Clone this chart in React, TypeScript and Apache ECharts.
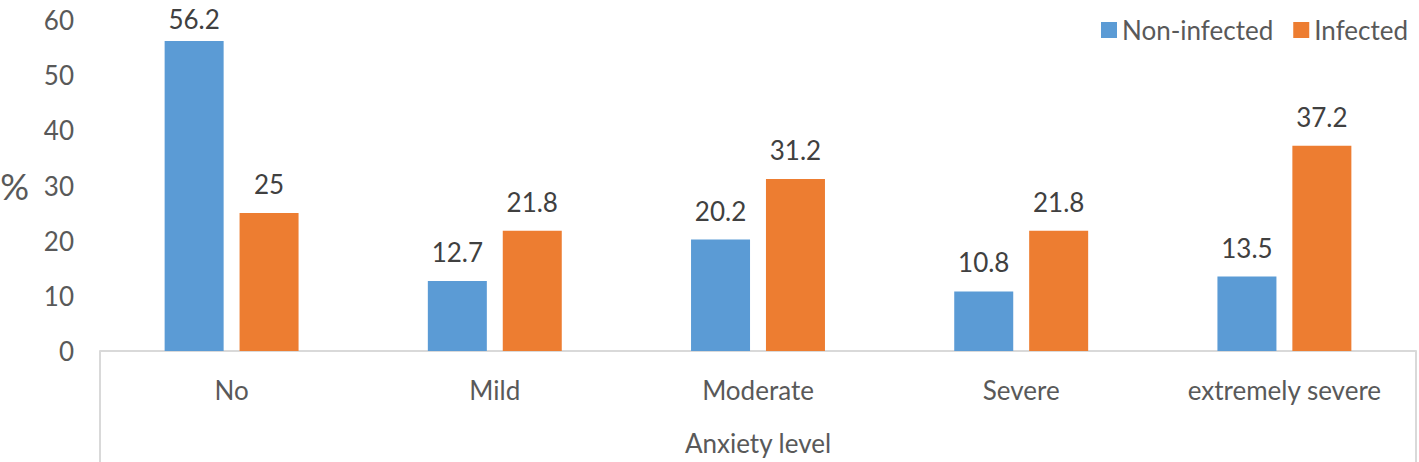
import React, { useEffect, useRef } from "react";
import * as echarts from "echarts";

const categories = ["No", "Mild", "Moderate", "Severe", "extremely severe"];
const nonInfected = [56.2, 12.7, 20.2, 10.8, 13.5];
const infected = [25, 21.8, 31.2, 21.8, 37.2];
const seriesNames = ["Non-infected", "Infected"];
const xTitle = "Anxiety level";
const yTitle = "%";

const W = 1419;
const H = 462;
const GRID_LEFT = 100;
const GRID_RIGHT = 3;
const GRID_TOP = 20;
const GRID_BOTTOM = 111;
const FONT = "Lato, 'Noto Sans', sans-serif";
const TEXT = "#595959";
const FS = 26;
const Y_MAX = 60;

// keep labels of bars near the top of the plot inside the picture
const toData = (vals: number[]) =>
  vals.map((v) => (v > Y_MAX - 6 ? { value: v, label: { distance: 9 } } : v));

export default function App() {
  const ref = useRef<HTMLDivElement>(null);
  useEffect(() => {
    document.body.style.margin = "0";
    const chart = echarts.init(ref.current!, null, { renderer: "svg" });
    const axisY = H - GRID_BOTTOM;
    const rightX = W - GRID_RIGHT;
    chart.setOption({
      animation: false,
      textStyle: { fontFamily: FONT },
      grid: {
        left: GRID_LEFT,
        right: GRID_RIGHT,
        top: GRID_TOP,
        bottom: GRID_BOTTOM,
        containLabel: false,
        outerBoundsMode: "none",
      },
      legend: {
        top: 12,
        right: 6,
        itemWidth: 16,
        itemHeight: 16,
        itemGap: 20,
        icon: "rect",
        textStyle: { fontSize: FS, color: TEXT, fontFamily: FONT },
        data: seriesNames,
      },
      xAxis: {
        type: "category",
        data: categories,
        axisLine: { lineStyle: { color: "#D9D9D9", width: 2 } },
        axisTick: { show: false },
        axisLabel: { fontSize: FS, color: TEXT, margin: 26, fontFamily: FONT },
        name: xTitle,
        nameLocation: "middle",
        nameGap: 79,
        nameTextStyle: { fontSize: FS, color: TEXT, fontFamily: FONT },
      },
      yAxis: {
        type: "value",
        min: 0,
        max: Y_MAX,
        interval: 10,
        axisLine: { show: false },
        axisTick: { show: false },
        splitLine: { show: false },
        axisLabel: { fontSize: FS, color: TEXT, margin: 26, fontFamily: FONT },
        name: yTitle,
        nameLocation: "middle",
        nameRotate: 0,
        nameGap: 71,
        nameTextStyle: { fontSize: 36, color: TEXT, fontFamily: FONT },
      },
      series: [
        {
          name: seriesNames[0],
          type: "bar",
          data: toData(nonInfected),
          barWidth: 59,
          barGap: "27%",
          itemStyle: { color: "#5B9BD5" },
          label: { show: true, position: "top", distance: 16, fontSize: FS, color: "#404040", fontFamily: FONT },
        },
        {
          name: seriesNames[1],
          type: "bar",
          data: toData(infected),
          barWidth: 59,
          barGap: "27%",
          itemStyle: { color: "#ED7D31" },
          label: { show: true, position: "top", distance: 16, fontSize: FS, color: "#404040", fontFamily: FONT },
        },
      ],
      graphic: [
        { type: "line", shape: { x1: GRID_LEFT, y1: axisY, x2: GRID_LEFT, y2: H }, style: { stroke: "#D9D9D9", lineWidth: 2 } },
        { type: "line", shape: { x1: rightX, y1: axisY, x2: rightX, y2: H }, style: { stroke: "#D9D9D9", lineWidth: 2 } },
      ],
    });
    return () => chart.dispose();
  }, []);
  return <div ref={ref} style={{ width: W, height: H }} />;
}
